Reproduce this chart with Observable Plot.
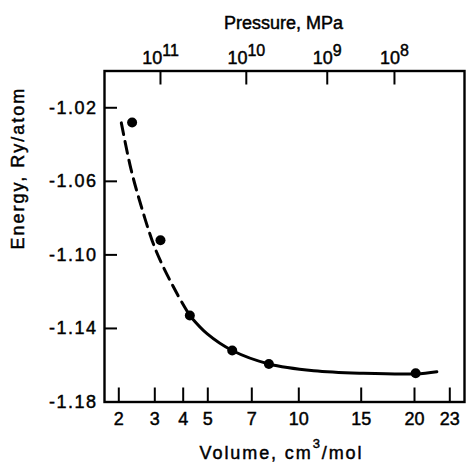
<!DOCTYPE html>
<html><head><meta charset="utf-8">
<script src="https://cdn.jsdelivr.net/npm/d3@7"></script>
<script src="https://cdn.jsdelivr.net/npm/@observablehq/plot@0.6"></script>
<style>
html,body{margin:0;padding:0;background:#fff;}
svg{display:block;}
svg text{stroke:black;stroke-width:0.45px;paint-order:stroke;}
</style></head><body><div id="chart"></div><script>
// Volume axis ticks (bottom), energy ticks (left), pressure ticks (top, placed at volumes)
const volumeTicks = [2, 3, 4, 5, 7, 10, 15, 20, 23];
const energyTicks = [-1.02, -1.06, -1.10, -1.14, -1.18];
const pressureTickVolumes = [3.2, 6.75, 12.28, 18.12];
const pressureExponents = ["11", "10", "9", "8"];

// measured points
const pointVolume = [2.37, 3.2, 4.27, 6.11, 8.09, 20.1];
const pointEnergy = [-1.028, -1.092, -1.133, -1.152, -1.1593, -1.1644];

// dashed (extrapolated) curve
const dashedVolume = [2.07, 2.33, 2.58, 2.93, 3.2, 3.79, 4.27];
const dashedEnergy = [-1.0282, -1.0527, -1.0707, -1.0924, -1.1033, -1.1213, -1.1331];

// solid curve
const solidVolume = [4.27, 4.98, 6.11, 8.09, 11.2, 15.2, 20.1, 21.9];
const solidEnergy = [-1.1331, -1.143, -1.152, -1.1593, -1.163, -1.1644, -1.1647, -1.1635];

const W = 466, H = 463;
const mL = 104, mR = 2, mT = 70.5, mB = 61.5;
const plotW = W - mL - mR, plotH = H - mT - mB;
// nonuniform volume axis of the original figure (piecewise)
const xRange = [118.3, 154.3, 182.7, 207.3, 251.3, 298.3, 360.7, 414, 449.3];

const pts = pointVolume.map((v, i) => ({v, e: pointEnergy[i]}));
const dashed = dashedVolume.map((v, i) => ({v, e: dashedEnergy[i]}));
const solid = solidVolume.map((v, i) => ({v, e: solidEnergy[i]}));

const plot = Plot.plot({
  width: W, height: H,
  marginLeft: mL, marginRight: mR, marginTop: mT, marginBottom: mB,
  style: {fontFamily: "'Liberation Sans', Arial, sans-serif", fontSize: "18px", color: "black", background: "white"},
  x: {type: "linear", domain: volumeTicks, range: xRange, axis: null},
  y: {type: "linear", domain: [-1.18, -1.0], axis: null},
  marks: [
    Plot.frame({stroke: "black", strokeWidth: 2.4}),
    Plot.tickY(energyTicks, {y: d => d, stroke: "black", strokeWidth: 2, insetRight: plotW - 13}),
    Plot.tickX(volumeTicks, {x: d => d, stroke: "black", strokeWidth: 2, insetTop: plotH - 14}),
    Plot.tickX(pressureTickVolumes, {x: d => d, stroke: "black", strokeWidth: 2, insetBottom: plotH - 14}),
    Plot.line(dashed, {x: "v", y: "e", stroke: "black", strokeWidth: 3, strokeDasharray: "12,7", curve: "catmull-rom"}),
    Plot.line(solid, {x: "v", y: "e", stroke: "black", strokeWidth: 3, curve: "catmull-rom"}),
    Plot.dot(pts, {x: "v", y: "e", r: 5, fill: "black"}),
    // text marks (order matters for post-processing below)
    Plot.text(energyTicks, {y: d => d, text: d => d.toFixed(2), frameAnchor: "left", textAnchor: "end", lineAnchor: "middle", dx: -7, fontSize: 18, fill: "black"}),
    Plot.text(volumeTicks, {x: d => d, text: d => String(d), frameAnchor: "bottom", lineAnchor: "middle", dy: 17.4, fontSize: 18, fill: "black"}),
    Plot.text(pressureTickVolumes, {x: d => d, text: (d, i) => pressureExponents[i], frameAnchor: "top", lineAnchor: "middle", dy: -12.3, fontSize: 18, fill: "black"}),
    Plot.text(["Pressure, MPa"], {text: d => d, frameAnchor: "top", lineAnchor: "middle", dy: -48.2, dx: -1, fontSize: 18, fill: "black"}),
    Plot.text(["Volume, cm"], {text: d => d, frameAnchor: "bottom", lineAnchor: "middle", dy: 51.5, dx: -3, fontSize: 18, fill: "black"}),
    Plot.text(["Energy, Ry/atom"], {text: d => d, frameAnchor: "left", rotate: -90, lineAnchor: "middle", dx: -86, dy: 13, fontSize: 18, fill: "black"})
  ]
});

const textGroups = d3.select(plot).selectAll('g[aria-label="text"]').nodes();
const [gY, gX, gP, gPL, gVL, gEL] = textGroups;
d3.select(gY).selectAll("text").style("letter-spacing", "1.5px");
d3.select(gVL).selectAll("text").style("letter-spacing", "1.9px");
d3.select(gEL).selectAll("text").style("letter-spacing", "2px");
d3.select(gP).selectAll("text").each(function() {
  const e = this.textContent;
  const t = d3.select(this);
  t.text("10");
  t.append("tspan").attr("dy", -8).attr("font-size", 16).text(e);
});
d3.select(gVL).selectAll("text").each(function() {
  const t = d3.select(this);
  t.append("tspan").attr("dy", -11).attr("font-size", 13).text("3");
  t.append("tspan").attr("dy", 11).attr("font-size", 18).text("/mol");
});

document.getElementById("chart").appendChild(plot);
</script></body></html>
